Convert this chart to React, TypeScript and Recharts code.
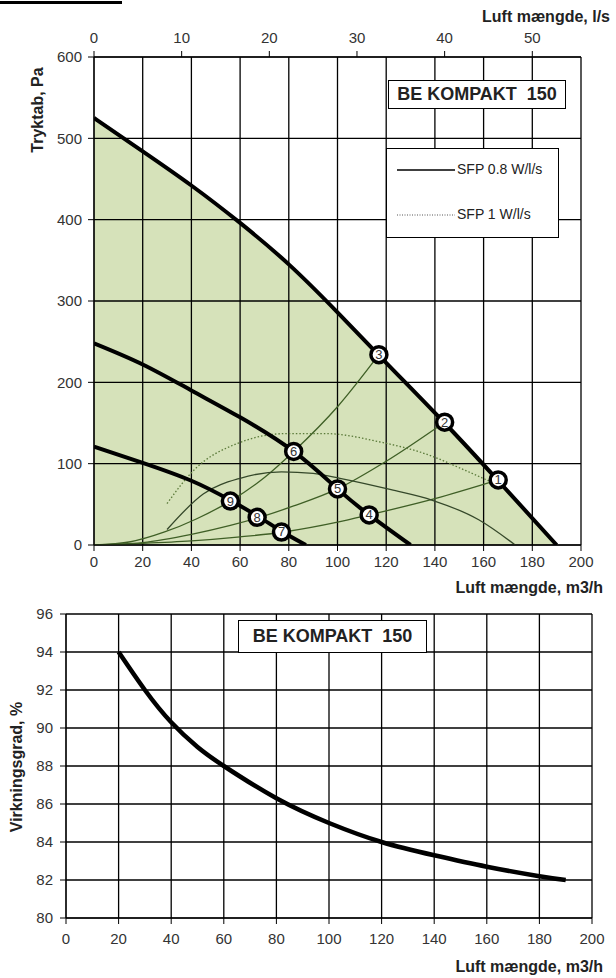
import React from 'react';
import {
  ComposedChart,
  LineChart,
  Line,
  Area,
  Scatter,
  XAxis,
  YAxis,
  CartesianGrid,
  ReferenceLine,
} from 'recharts';

const FONT = '"Liberation Sans", Arial, sans-serif';

// axes
const flowTicks = [0, 20, 40, 60, 80, 100, 120, 140, 160, 180, 200];
const litreTicks = [0, 10, 20, 30, 40, 50];
const pressureTicks = [0, 100, 200, 300, 400, 500, 600];
const effTicks = [80, 82, 84, 86, 88, 90, 92, 94, 96];

// fan curves (m3/h, Pa)
const maxFlow = [0, 20, 40, 60, 80, 100, 120, 144, 166, 190];
const maxPa = [525, 484, 442, 396, 345, 286, 224, 150, 79, 0];
const midFlow = [0, 20, 40, 60, 82, 100, 113, 130];
const midPa = [248, 222, 190, 157, 115, 69, 37, 0];
const lowFlow = [0, 20, 40, 56, 68, 77, 87];
const lowPa = [121, 101, 79, 55, 34, 17, 0];

// system curves
const sys1Flow = [0, 20, 40, 60, 78, 100, 113, 140, 166];
const sys1Pa = [0, 2, 5, 10, 16, 28, 37, 57, 80];
const sys2Flow = [0, 20, 40, 56, 68, 82, 100, 120, 144];
const sys2Pa = [0, 3, 13, 24, 34, 48, 69, 103, 151];
const sys3Flow = [0, 15, 29, 42, 56, 70, 82, 100, 117];
const sys3Pa = [0, 4, 16, 32, 54, 83, 115, 170, 234];

// SFP limits
const sfp08Flow = [30, 45, 60, 77, 90, 101, 122, 139, 158, 173];
const sfp08Pa = [19, 63, 82, 90, 88, 82, 68, 55, 31, 0];
const sfp1Flow = [30, 41, 59, 79, 95, 117, 139, 150, 164, 168];
const sfp1Pa = [51, 92, 125, 137, 137, 127, 109, 95, 76, 70];

// operating points
const pointIds = [1, 2, 3, 4, 5, 6, 7, 8, 9];
const pointFlow = [166, 144, 117, 113, 100, 82, 77, 67, 56];
const pointPa = [80, 151, 234, 37, 69, 115, 16, 34, 54];

// efficiency curve
const effFlow = [20, 30, 40, 50, 60, 80, 100, 120, 140, 160, 180, 190];
const effPct = [94, 92, 90.3, 89, 88, 86.3, 85, 84, 83.3, 82.7, 82.2, 82];

const rows = (xs: number[], ys: number[]) => xs.map((x, i) => ({ x, y: ys[i] }));

const markers = pointIds.map((id, i) => ({ id, x: pointFlow[i], y: pointPa[i] }));

const tickStyle = { fill: '#333', fontSize: 15, fontFamily: FONT };

const MarkerDot = (props: any) => {
  const { cx, cy, payload } = props;
  return (
    <g>
      <circle cx={cx} cy={cy} r={8} fill="#fff" stroke="#000" strokeWidth={3.5} />
      <text x={cx} y={cy} dy={4.5} textAnchor="middle" fontSize={13} fill="#333" fontFamily={FONT}>
        {payload.id}
      </text>
    </g>
  );
};

const boxStyle: React.CSSProperties = {
  position: 'absolute',
  border: '1.5px solid #000',
  background: '#fff',
  fontFamily: FONT,
  fontWeight: 'bold',
  fontSize: 18,
  color: '#222',
  display: 'flex',
  alignItems: 'center',
  justifyContent: 'center',
  whiteSpace: 'pre',
  boxSizing: 'border-box',
};

const titleStyle: React.CSSProperties = {
  position: 'absolute',
  fontFamily: FONT,
  fontWeight: 'bold',
  fontSize: 16,
  color: '#222',
  whiteSpace: 'nowrap',
  lineHeight: '18px',
};

export default function App() {
  return (
    <div style={{ position: 'absolute', left: 0, top: 0, width: 616, height: 978, background: '#fff', fontFamily: FONT }}>
      <div style={{ position: 'absolute', left: 0, top: 1, width: 122, height: 3, background: '#000' }} />

      {/* pressure chart */}
      <div style={{ position: 'absolute', left: 0, top: 0, width: 616, height: 600 }}>
        <ComposedChart width={616} height={600} margin={{ top: 27, right: 35, left: 0, bottom: 25 }}>
          <XAxis
            dataKey="x"
            type="number"
            domain={[0, 200]}
            ticks={flowTicks}
            allowDataOverflow
            height={30}
            tickSize={6}
            tickMargin={5}
            stroke="#000"
            tick={tickStyle}
          />
          <XAxis
            xAxisId="ls"
            dataKey="x"
            orientation="top"
            type="number"
            domain={[0, 200 / 3.6]}
            ticks={litreTicks}
            allowDataOverflow
            height={30}
            tickSize={6}
            tickMargin={8}
            stroke="#000"
            tick={tickStyle}
          />
          <YAxis
            type="number"
            domain={[0, 600]}
            ticks={pressureTicks}
            allowDataOverflow
            width={94}
            tickSize={6}
            tickMargin={6}
            stroke="#000"
            tick={tickStyle}
          />
          <Area
            data={rows(maxFlow, maxPa)}
            dataKey="y"
            type="natural"
            stroke="none"
            fill="#d6e2ba"
            fillOpacity={1}
            baseValue={0}
            isAnimationActive={false}
          />
          {/* carries the l/s scale on top */}
          <Line
            xAxisId="ls"
            data={litreTicks.map((x) => ({ x }))}
            dataKey="y"
            stroke="none"
            dot={false}
            legendType="none"
            isAnimationActive={false}
          />
          {flowTicks.map((t) => (
            <ReferenceLine key={`vx${t}`} x={t} stroke="#000" strokeWidth={1.3} />
          ))}
          {pressureTicks.map((t) => (
            <ReferenceLine key={`hy${t}`} y={t} stroke="#000" strokeWidth={1.3} />
          ))}
          <Line data={rows(sys1Flow, sys1Pa)} dataKey="y" type="monotone" stroke="#3f5f26" strokeWidth={1.3} dot={false} isAnimationActive={false} />
          <Line data={rows(sys2Flow, sys2Pa)} dataKey="y" type="monotone" stroke="#3f5f26" strokeWidth={1.3} dot={false} isAnimationActive={false} />
          <Line data={rows(sys3Flow, sys3Pa)} dataKey="y" type="monotone" stroke="#3f5f26" strokeWidth={1.3} dot={false} isAnimationActive={false} />
          <Line data={rows(sfp08Flow, sfp08Pa)} dataKey="y" type="monotone" stroke="#35482a" strokeWidth={1.3} dot={false} isAnimationActive={false} />
          <Line data={rows(sfp1Flow, sfp1Pa)} dataKey="y" type="monotone" stroke="#5b7a3a" strokeWidth={1.3} strokeDasharray="1.5 2" dot={false} isAnimationActive={false} />
          <Line data={rows(maxFlow, maxPa)} dataKey="y" type="natural" stroke="#000" strokeWidth={4} dot={false} isAnimationActive={false} />
          <Line data={rows(midFlow, midPa)} dataKey="y" type="natural" stroke="#000" strokeWidth={4} dot={false} isAnimationActive={false} />
          <Line data={rows(lowFlow, lowPa)} dataKey="y" type="natural" stroke="#000" strokeWidth={4} dot={false} isAnimationActive={false} />
          <Scatter data={markers} dataKey="y" shape={MarkerDot} isAnimationActive={false} />
        </ComposedChart>

        <div style={{ ...titleStyle, right: 6, top: 8 }}>Luft mængde, l/s</div>
        <div style={{ ...titleStyle, right: 13, top: 579 }}>Luft mængde, m3/h</div>
        <div
          style={{
            ...titleStyle,
            left: 38,
            top: 110,
            transform: 'translate(-50%, -50%) rotate(-90deg)',
          }}
        >
          Tryktab, Pa
        </div>

        <div style={{ ...boxStyle, left: 388, top: 80, width: 178, height: 29 }}>BE KOMPAKT  150</div>

        <div
          style={{
            position: 'absolute',
            left: 386,
            top: 148,
            width: 173,
            height: 90,
            border: '1.5px solid #000',
            background: '#fff',
            boxSizing: 'border-box',
            fontFamily: FONT,
            fontSize: 14,
            color: '#222',
          }}
        >
          <svg width={60} height={90} style={{ position: 'absolute', left: 8, top: 0 }}>
            <line x1={2} y1={21} x2={60} y2={21} stroke="#000" strokeWidth={1.5} />
            <line x1={2} y1={66} x2={60} y2={66} stroke="#555" strokeWidth={1} strokeDasharray="1 1.5" />
          </svg>
          <div style={{ position: 'absolute', left: 70, top: 12, whiteSpace: 'nowrap' }}>SFP 0.8 W/l/s</div>
          <div style={{ position: 'absolute', left: 70, top: 57, whiteSpace: 'nowrap' }}>SFP 1 W/l/s</div>
        </div>
      </div>

      {/* efficiency chart */}
      <div style={{ position: 'absolute', left: 0, top: 600, width: 616, height: 378 }}>
        <LineChart width={616} height={378} margin={{ top: 14, right: 24, left: 0, bottom: 30 }}>
          <CartesianGrid stroke="#000" strokeWidth={1.3} strokeOpacity={1} />
          <XAxis
            dataKey="x"
            type="number"
            domain={[0, 200]}
            ticks={flowTicks}
            allowDataOverflow
            height={30}
            tickSize={6}
            tickMargin={9}
            stroke="#000"
            tick={tickStyle}
          />
          <YAxis
            type="number"
            domain={[80, 96]}
            ticks={effTicks}
            allowDataOverflow
            width={66}
            tickSize={6}
            tickMargin={7}
            stroke="#000"
            tick={tickStyle}
          />
          <Line data={rows(effFlow, effPct)} dataKey="y" type="natural" stroke="#000" strokeWidth={4.5} dot={false} isAnimationActive={false} />
        </LineChart>

        <div style={{ ...boxStyle, left: 238, top: 20, width: 189, height: 33 }}>BE KOMPAKT  150</div>
        <div style={{ ...titleStyle, right: 13, top: 358 }}>Luft mængde, m3/h</div>
        <div
          style={{
            ...titleStyle,
            left: 17,
            top: 167,
            transform: 'translate(-50%, -50%) rotate(-90deg)',
          }}
        >
          Virkningsgrad, %
        </div>
      </div>
    </div>
  );
}
